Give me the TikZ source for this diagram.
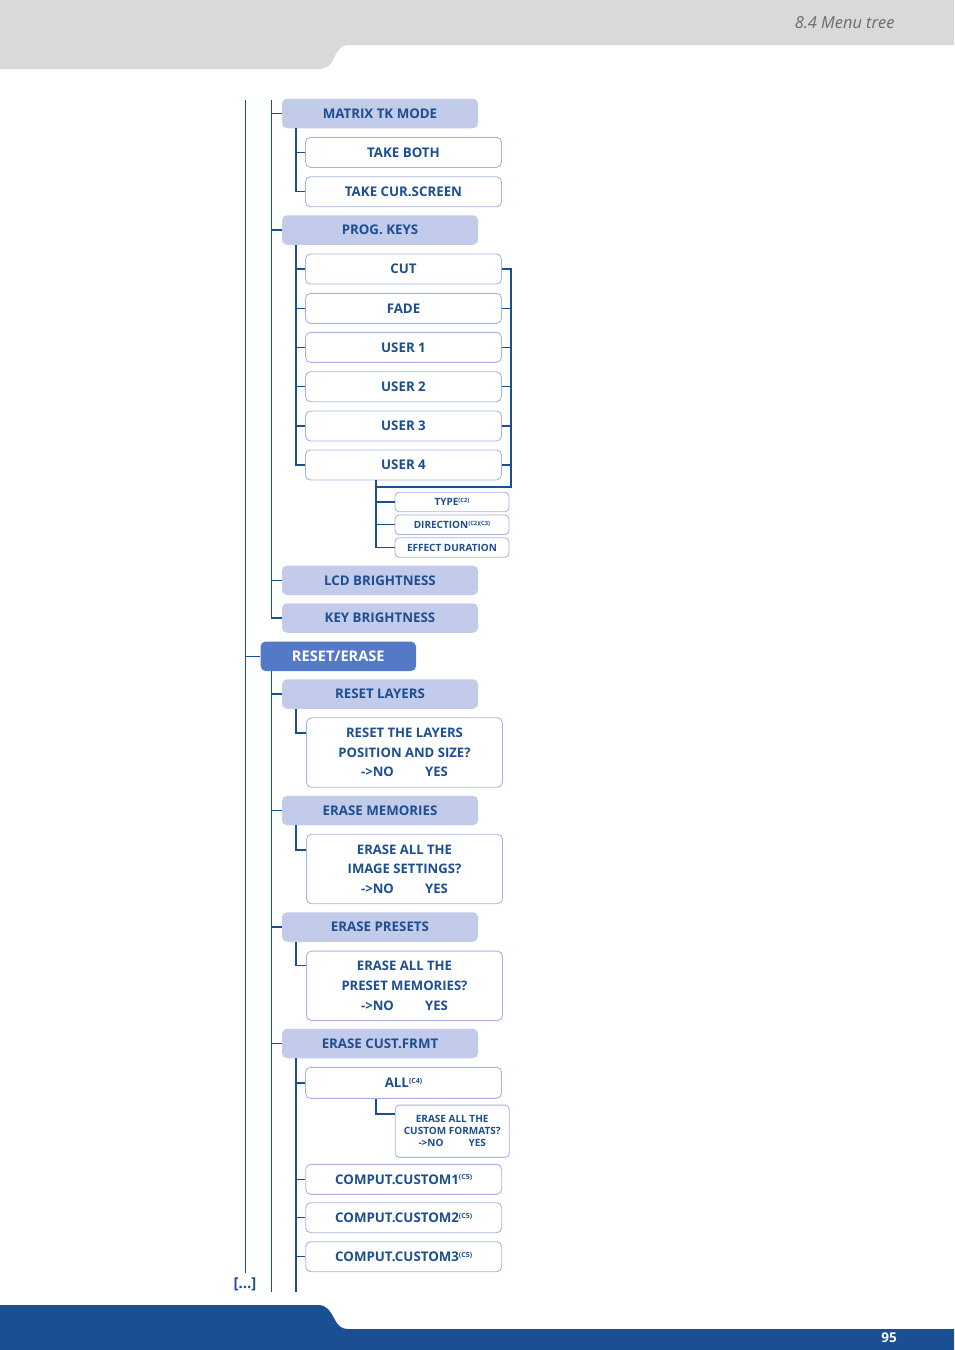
\documentclass[tikz,border=0pt]{standalone}
\usepackage{fontspec}
\setmainfont{Open Sans}
\usetikzlibrary{calc}
\definecolor{txtblue}{HTML}{1D4E8F}
\definecolor{lineblue}{HTML}{1B4E92}
\definecolor{catfill}{HTML}{C3CBEB}
\definecolor{subborder}{HTML}{A6B4E4}
\definecolor{resetfill}{HTML}{5479C6}
\definecolor{headgray}{HTML}{D9D9D9}
\definecolor{headtxt}{HTML}{6A6A6A}
\definecolor{footblue}{HTML}{1A4F93}
\newcommand{\sups}[1]{\raisebox{0.6ex}{\fontsize{7}{7}\selectfont(#1)}}
\newcommand{\supt}[1]{\raisebox{0.6ex}{\fontsize{5.8}{5.8}\selectfont(#1)}}
\tikzset{
  catbox/.style={fill=catfill, rounded corners=5pt, minimum width=196pt, minimum height=29.5pt, inner sep=0pt, text=txtblue, font=\bfseries\fontsize{13.3}{15}\selectfont},
  subbox/.style={draw=subborder, line width=0.9pt, fill=white, rounded corners=5pt, minimum width=196pt, minimum height=30pt, inner sep=0pt, text=txtblue, font=\bfseries\fontsize{13.3}{15}\selectfont},
  qbox/.style={subbox, minimum height=69.5pt, align=center, font=\bfseries\fontsize{13.1}{19.6}\selectfont},
  smallbox/.style={draw=subborder, line width=0.9pt, fill=white, rounded corners=4pt, minimum width=114pt, minimum height=19.5pt, inner sep=0pt, text=txtblue, font=\bfseries\fontsize{10}{11}\selectfont},
  resetbox/.style={fill=resetfill, rounded corners=5pt, minimum width=155.5pt, minimum height=29.5pt, inner sep=0pt, text=white, font=\bfseries\fontsize{14.6}{16}\selectfont},
  conn/.style={draw=lineblue, line width=1.5pt},
}
\begin{document}
\begin{tikzpicture}[x=1pt,y=-1pt]
\useasboundingbox (0,0) rectangle (954,1350);
% header
\fill[headgray] (0,0) -- (954,0) -- (954,45) -- (349,45) .. controls (341,45) and (338,50) .. (334,58) .. controls (331,65) and (327,69) .. (318,69) -- (0,69) -- cycle;
\node[anchor=east, text=headtxt, font=\itshape\fontsize{16.4}{18}\selectfont] (headtext) at (898,23) {8.4 Menu tree};
% footer
\fill[footblue] (0,1305) -- (318,1305) .. controls (327,1305) and (330,1311) .. (334,1318) .. controls (338,1326) and (341,1329) .. (349,1329) -- (954,1329) -- (954,1350) -- (0,1350) -- cycle;
\node[text=white, font=\bfseries\fontsize{13.5}{15}\selectfont] (pagenum) at (889,1338) {95};

% nodes
\node[catbox] (m1) at (380,113.5) {MATRIX TK MODE};
\node[subbox] (tb) at (403.5,152.3) {TAKE BOTH};
\node[subbox] (tc) at (403.5,191.7) {TAKE CUR.SCREEN};
\node[catbox] (pk) at (380,230) {PROG. KEYS};
\node[subbox] (cut) at (403.5,269) {CUT};
\node[subbox] (fade) at (403.5,308.3) {FADE};
\node[subbox] (u1) at (403.5,347.3) {USER 1};
\node[subbox] (u2) at (403.5,386.7) {USER 2};
\node[subbox] (u3) at (403.5,426) {USER 3};
\node[subbox] (u4) at (403.5,465) {USER 4};
\node[smallbox] (type) at (452,502) {TYPE\supt{C2}};
\node[smallbox] (dir) at (452,524.7) {DIRECTION\supt{C2)(C3}};
\node[smallbox] (eff) at (452,547.5) {EFFECT DURATION};
\node[catbox] (lcd) at (380,580.3) {LCD BRIGHTNESS};
\node[catbox] (key) at (380,618) {KEY BRIGHTNESS};
\node[resetbox] (re) at (338.3,656.3) {RESET/ERASE};
\node[catbox] (rl) at (380,694) {RESET LAYERS};
\node[qbox] (q1) at (404.5,752.5) {RESET THE LAYERS\\POSITION AND SIZE?\\\makebox[64pt][l]{->NO}YES\hspace{9pt}};
\node[catbox] (em) at (380,810.5) {ERASE MEMORIES};
\node[qbox] (q2) at (404.5,869) {ERASE ALL THE\\IMAGE SETTINGS?\\\makebox[64pt][l]{->NO}YES\hspace{9pt}};
\node[catbox] (ep) at (380,927) {ERASE PRESETS};
\node[qbox] (q3) at (404.5,985.8) {ERASE ALL THE\\PRESET MEMORIES?\\\makebox[64pt][l]{->NO}YES\hspace{9pt}};
\node[catbox] (ec) at (380,1043.5) {ERASE CUST.FRMT};
\node[subbox, minimum height=31pt] (all) at (403.5,1082.8) {ALL\sups{C4}};
\node[smallbox, minimum height=52.3pt, align=center, font=\bfseries\fontsize{10}{12}\selectfont] (allq) at (452.2,1131.2) {ERASE ALL THE\\CUSTOM FORMATS?\\\makebox[50pt][l]{->NO}YES\hspace{9pt}};
\node[subbox] (c1) at (403.7,1179.3) {COMPUT.CUSTOM1\sups{C5}};
\node[subbox] (c2) at (403.7,1217.7) {COMPUT.CUSTOM2\sups{C5}};
\node[subbox] (c3) at (403.7,1256.7) {COMPUT.CUSTOM3\sups{C5}};
\node[text=txtblue, font=\bfseries\fontsize{15}{16}\selectfont] (dots) at (245,1284) {[...]};

% trunk coordinates
\coordinate (t0top) at (245.3,100);
\coordinate (t0bot) at (245.3,1272.5);
\coordinate (tAtop) at (271.6,100);
\coordinate (tBbot) at (271.6,1291.5);
\coordinate (tCbot) at (296,1291.5);
\coordinate (rbx) at (510.8,487);
\coordinate (sbx) at (376,487);

% outer trunk
\draw[conn] (t0top) -- (t0bot);
\draw[conn] (re.west) -- (re.west -| t0top);
% upper second trunk
\draw[conn] (tAtop) |- (key.west);
\draw[conn] (m1.west) -- (m1.west -| tAtop);
\draw[conn] (pk.west) -- (pk.west -| tAtop);
\draw[conn] (lcd.west) -- (lcd.west -| tAtop);
% lower second trunk
\draw[conn] (re.south -| tAtop) -- (tBbot);
\foreach \n in {rl,em,ep,ec} \draw[conn] (\n.west) -- (\n.west -| tAtop);
% matrix sub
\draw[conn] (m1.south -| tCbot) |- (tc.west);
\draw[conn] (tb.west) -- (tb.west -| tCbot);
% prog keys sub
\draw[conn] (pk.south -| tCbot) |- (u4.west);
\foreach \n in {cut,fade,u1,u2,u3} \draw[conn] (\n.west) -- (\n.west -| tCbot);
% right bracket
\draw[conn] (cut.east) -| (rbx) -- (sbx);
\foreach \n in {fade,u1,u2,u3,u4} \draw[conn] (\n.east) -- (\n.east -| rbx);
\draw[conn] (u4.south -| sbx) |- (eff.west);
\draw[conn] (type.west) -- (type.west -| sbx);
\draw[conn] (dir.west) -- (dir.west -| sbx);
% reset layers etc.
\draw[conn] (rl.south -| tCbot) |- ($(q1.north west)+(0,15.6)$);
\draw[conn] (em.south -| tCbot) |- ($(q2.north west)+(0,16)$);
\draw[conn] (ep.south -| tCbot) |- ($(q3.north west)+(0,15)$);
% erase cust frmt
\draw[conn] (ec.south -| tCbot) -- (tCbot);
\foreach \n in {all,c1,c2,c3} \draw[conn] (\n.west) -- (\n.west -| tCbot);
\draw[conn] (all.south -| sbx) |- ($(allq.north west)+(0,9.3)$);
\end{tikzpicture}
\end{document}
